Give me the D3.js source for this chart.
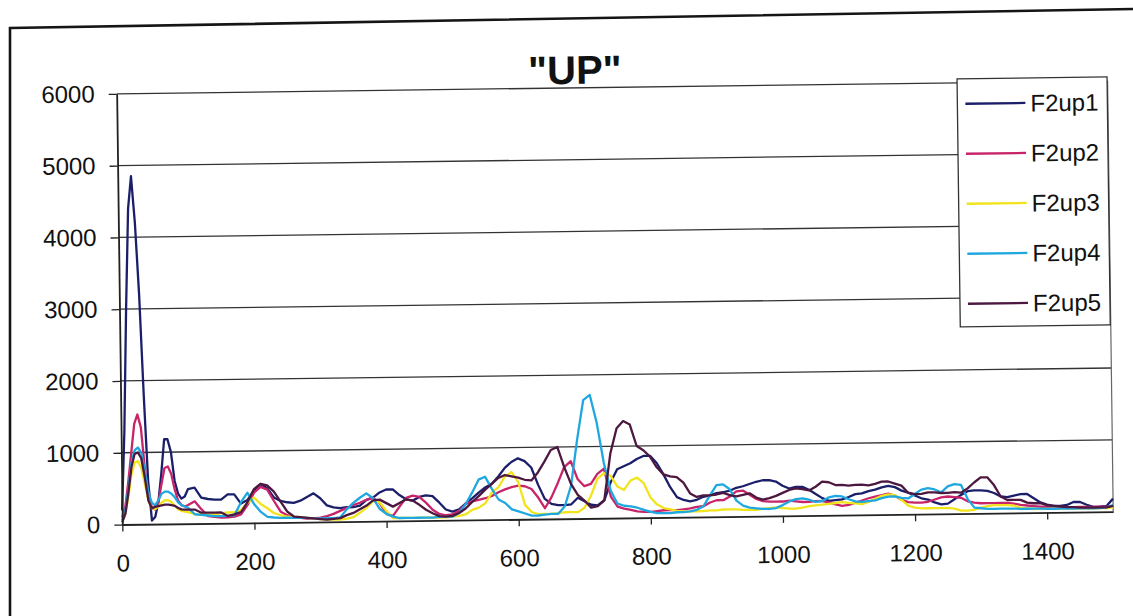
<!DOCTYPE html>
<html><head><meta charset="utf-8">
<script src="https://cdn.jsdelivr.net/npm/d3@7"></script>
<style>
body{margin:0;background:#fff}
svg{display:block}
text{font-family:"Liberation Sans",Arial,Helvetica,sans-serif;fill:#111}
</style>
</head><body>
<svg id="chart" width="1133" height="616"></svg>
<script>
const chartTitle = '"UP"';
const seriesNames = ["F2up1", "F2up2", "F2up3", "F2up4", "F2up5"];
const seriesColors = ["#1b1f6a", "#c8246a", "#f2e41c", "#1fa8e0", "#4d1840"];
const yTickValues = [0, 1000, 2000, 3000, 4000, 5000, 6000];
const xTickValues = [0, 200, 400, 600, 800, 1000, 1200, 1400];
// sample positions: 0..95 step 5, then 100..1500 step 10
const xValues = d3.range(0, 100, 5).concat(d3.range(100, 1501, 10));

const F2up1 = [
  200, 1300, 3000, 4400, 4850, 4200, 3200, 1800, 600, 50, 100, 300, 700, 1180, 1180, 1000, 600, 420, 350, 380, 480,
  500, 360, 340, 330, 330, 400, 400, 270, 320, 450,
  540, 480, 350, 300, 280, 270, 300, 350, 400, 330,
  230, 200, 190, 200, 200, 220, 300, 330, 400, 440,
  440, 360, 300, 280, 330, 350, 340, 250, 150, 120,
  150, 230, 300, 380, 450, 500, 600, 720, 800, 850,
  810, 720, 480, 280, 210, 190, 190, 200, 290, 240,
  190, 180, 250, 500, 680, 720, 760, 820, 860, 860,
  760, 600, 420, 280, 240, 220, 240, 280, 300, 330,
  340, 360, 400, 420, 450, 480, 500, 500, 480, 420,
  380, 400, 400, 360, 300, 240, 200, 210, 220, 250,
  290, 300, 330, 350, 380, 400, 380, 330, 300, 260,
  220, 200, 160, 130, 140, 200, 260, 310, 320, 320,
  310, 280, 230, 220, 240, 260, 260, 200, 140, 110,
  90, 90, 100, 140, 140, 100, 70, 70, 80, 180
];
const F2up2 = [
  100, 250, 600, 1000, 1400, 1530, 1350, 800, 400, 240, 200, 300, 550, 780, 800, 700, 480, 320, 260, 240, 260,
  310, 200, 100, 90, 80, 80, 90, 120, 250, 420,
  500, 460, 300, 150, 100, 70, 60, 50, 50, 60,
  80, 110, 150, 190, 230, 260, 300, 330, 250, 100,
  70, 200, 320, 350, 330, 250, 150, 90, 70, 80,
  130, 220, 260, 280, 300, 330, 380, 420, 450, 470,
  460, 420, 300, 150, 300, 500, 720, 800, 550, 450,
  480, 620, 690, 300, 160, 130, 110, 90, 80, 80,
  90, 100, 100, 100, 110, 120, 140, 150, 200, 230,
  230, 280, 350, 360, 300, 240, 210, 200, 200, 200,
  210, 200, 190, 190, 200, 200, 180, 150, 130, 140,
  170, 200, 230, 250, 270, 290, 260, 200, 170, 160,
  160, 170, 200, 230, 240, 230, 220, 170, 150, 140,
  140, 140, 140, 140, 130, 110, 100, 90, 80, 80,
  70, 70, 70, 70, 70, 70, 70, 70, 70, 80
];
const F2up3 = [
  50, 150, 400, 700, 860, 880, 780, 560, 330, 220, 210, 240, 300, 330, 330, 300, 250, 200, 180, 170, 160,
  130, 125, 125, 125, 140, 150, 150, 180, 280, 350,
  260, 200, 130, 100, 80, 80, 70, 60, 50, 40,
  30, 30, 30, 40, 60, 120, 190, 280, 260, 140,
  40, 40, 40, 40, 40, 40, 40, 40, 40, 50,
  60, 80, 140, 170, 230, 380, 450, 600, 660, 520,
  200, 100, 70, 70, 70, 80, 90, 90, 90, 150,
  320, 550, 630, 590, 440, 390, 520, 560, 480, 280,
  180, 130, 110, 90, 80, 80, 80, 80, 90, 90,
  100, 100, 100, 90, 90, 90, 100, 110, 120, 110,
  100, 100, 110, 130, 140, 150, 160, 170, 180, 170,
  160, 150, 180, 220, 260, 280, 270, 200, 120, 90,
  80, 80, 80, 80, 80, 70, 40, 40, 50, 80,
  100, 110, 110, 110, 100, 70, 60, 50, 50, 50,
  50, 50, 50, 50, 50, 50, 50, 50, 50, 60
];
const F2up4 = [
  60, 200, 500, 850, 1030, 1070, 1000, 750, 450, 300, 260, 330, 420, 450, 450, 420, 370, 300, 260, 240, 220,
  130, 120, 110, 100, 100, 100, 110, 290, 420, 260,
  150, 80, 70, 65, 65, 60, 60, 60, 50, 50,
  50, 50, 60, 170, 260, 330, 390, 320, 170, 100,
  60, 40, 40, 40, 40, 40, 40, 50, 50, 50,
  100, 220, 380, 560, 600, 430, 280, 230, 140, 110,
  80, 50, 50, 60, 70, 70, 170, 460, 1100, 1650,
  1720, 1330, 770, 380, 200, 170, 160, 140, 110, 80,
  60, 60, 60, 70, 70, 80, 100, 150, 300, 440,
  450, 380, 220, 150, 120, 110, 100, 100, 110, 150,
  200, 230, 240, 220, 190, 200, 250, 270, 260, 220,
  190, 180, 190, 200, 230, 250, 250, 230, 220, 280,
  340, 360, 340, 300, 380, 410, 400, 200, 80, 70,
  60, 60, 60, 60, 60, 55, 55, 55, 55, 50,
  50, 50, 50, 50, 50, 50, 50, 50, 60, 90
];
const F2up5 = [
  30, 150, 450, 800, 980, 1000, 920, 650, 330, 220, 240, 250, 260, 270, 270, 260, 250, 220, 200, 195, 195,
  195, 150, 150, 150, 150, 100, 120, 150, 290, 470,
  540, 520, 430, 290, 150, 80, 70, 60, 50, 40,
  30, 40, 50, 90, 120, 170, 220, 290, 300, 250,
  200, 250, 300, 280, 220, 150, 100, 60, 50, 60,
  100, 160, 250, 330, 420, 500, 580, 620, 600, 580,
  550, 540, 650, 800, 960, 1000, 720, 480, 330, 250,
  150, 170, 250, 900, 1250, 1350, 1300, 1000, 940, 850,
  700, 600, 570, 560, 480, 330, 280, 300, 300, 310,
  330, 300, 280, 300, 320, 260, 230, 250, 280, 320,
  360, 380, 370, 350, 400, 470, 460, 420, 420, 410,
  420, 420, 410, 430, 460, 460, 430, 400, 300, 280,
  280, 300, 300, 290, 290, 300, 290, 350, 430, 500,
  500, 390, 230, 180, 180, 180, 140, 130, 130, 100,
  90, 80, 70, 70, 60, 60, 60, 60, 60, 80
];
const seriesValues = [F2up1, F2up2, F2up3, F2up4, F2up5];

const svg = d3.select("#chart");
svg.append("rect").attr("width", 1133).attr("height", 616).attr("fill", "#fff");

// outer chart border (scan edge)
svg.append("path").attr("d", "M10,616 L10,28 L1133,9")
  .attr("fill", "none").attr("stroke", "#151515").attr("stroke-width", 2.6);

const g = svg.append("g").attr("transform", "rotate(-0.75 566 308)");

const x = d3.scaleLinear().domain([0, 1500]).range([119.5, 1110.5]);
const y = d3.scaleLinear().domain([0, 6000]).range([518.7, 88]);

// gridlines
g.append("g").selectAll("line").data(yTickValues.filter(d => d > 0)).join("line")
  .attr("x1", x(0)).attr("x2", x(1500))
  .attr("y1", d => y(d)).attr("y2", d => y(d))
  .attr("stroke", "#333").attr("stroke-width", 1.3);

// plot area right border
g.append("line").attr("x1", x(1500)).attr("x2", x(1500))
  .attr("y1", y(6000)).attr("y2", y(0))
  .attr("stroke", "#666").attr("stroke-width", 1.2);

// series
const line = d3.line().x(d => x(d[0])).y(d => y(d[1]));
seriesValues.forEach((vals, i) => {
  const pts = xValues.map((xv, j) => [xv, vals[j]]).filter(p => p[1] !== undefined);
  g.append("path").datum(pts)
    .attr("d", line)
    .attr("fill", "none")
    .attr("stroke", seriesColors[i])
    .attr("stroke-width", 2.3)
    .attr("stroke-linejoin", "round");
});

// axes
const fmt = d3.format("d");
const yAxis = g.append("g").attr("transform", `translate(${x(0)},0)`)
  .call(d3.axisLeft(y).tickValues(yTickValues).tickFormat(fmt).tickSize(8).tickSizeOuter(0).tickPadding(14));
yAxis.selectAll("text").attr("font-size", 24).attr("fill", "#111");
yAxis.selectAll("line").attr("stroke", "#222").attr("stroke-width", 1.3);
yAxis.select(".domain").attr("stroke", "#222").attr("stroke-width", 1.8);

const xAxis = g.append("g").attr("transform", `translate(0,${y(0)})`)
  .call(d3.axisBottom(x).tickValues(xTickValues).tickFormat(fmt).tickSize(7).tickSizeOuter(0));
xAxis.selectAll("text").attr("font-size", 24).attr("fill", "#111").attr("y", 47).attr("dy", 0);
xAxis.selectAll("line").attr("stroke", "#222").attr("stroke-width", 1.3);
xAxis.select(".domain").attr("stroke", "#222").attr("stroke-width", 1.8);
g.selectAll(".tick text").attr("font-family", '"Liberation Sans",Arial,sans-serif');

// title
g.append("text").attr("x", 578).attr("y", 84).attr("text-anchor", "middle")
  .attr("font-size", 40).attr("font-weight", "bold").text(chartTitle);

// legend
const lg = g.append("g");
lg.append("rect").attr("x", 960).attr("y", 84).attr("width", 150).attr("height", 248)
  .attr("fill", "#fff").attr("stroke", "#333").attr("stroke-width", 1.3);
seriesNames.forEach((name, i) => {
  const cy = 109 + i * 50;
  lg.append("line").attr("x1", 968).attr("x2", 1028).attr("y1", cy).attr("y2", cy)
    .attr("stroke", seriesColors[i]).attr("stroke-width", 2.3);
  lg.append("text").attr("x", 1033).attr("y", cy + 8.5).attr("font-size", 24).text(name);
});
</script>
</body></html>
